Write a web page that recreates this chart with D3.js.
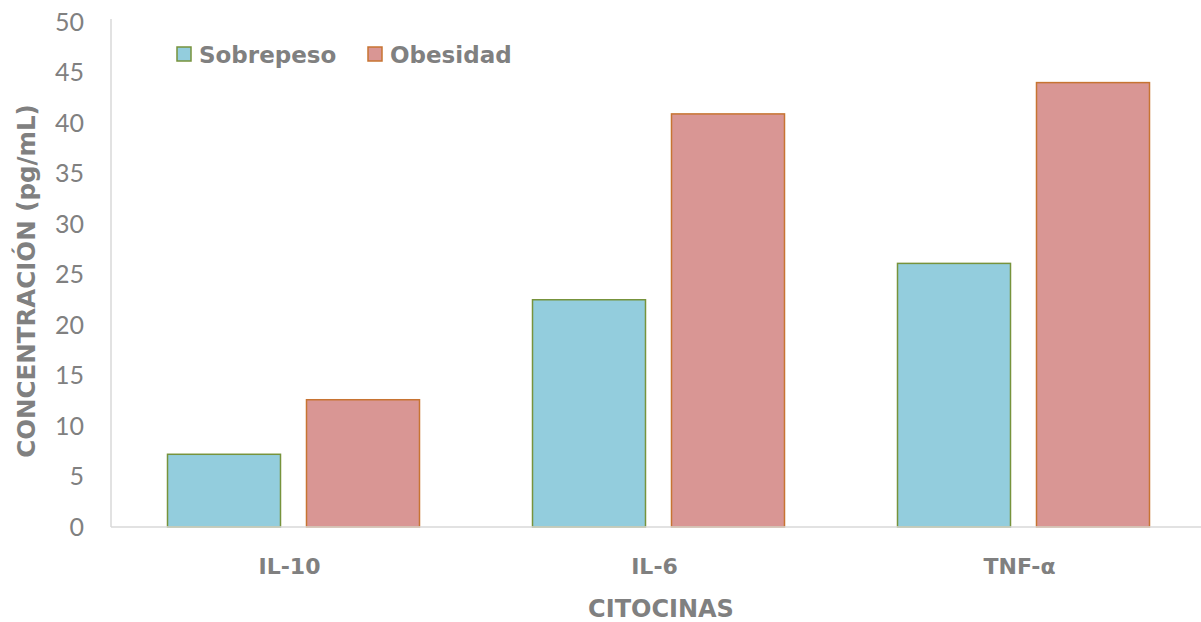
<!DOCTYPE html>
<html><head><meta charset="utf-8">
<script src="https://cdn.jsdelivr.net/npm/d3@7"></script>
<style>
html,body{margin:0;padding:0;background:#fff;}
svg text{fill:#808080;}
</style></head>
<body>
<svg id="c" width="1201" height="622"></svg>
<script>
const categories = ["IL-10", "IL-6", "TNF-α"];
const seriesNames = ["Sobrepeso", "Obesidad"];
const sobrepeso = [7.2, 22.5, 26.1];
const obesidad = [12.6, 40.9, 44.0];
const yTicks = [0, 5, 10, 15, 20, 25, 30, 35, 40, 45, 50];
const fills = ["#93CDDD", "#D99694"];
const strokes = ["#77933C", "#C77432"];

(function(){
const BOLD = "'DejaVu Sans', sans-serif";
const svg = d3.select("#c");
const pLeft = 111, pRight = 1206, pTop = 22, pBottom = 527;
const x0 = d3.scaleBand().domain(categories).range([pLeft, pRight]).paddingInner(0).paddingOuter(0);
const x1 = d3.scaleBand().domain(seriesNames).range([56.5, x0.bandwidth() - 56.5]).paddingInner(0.187).paddingOuter(0);
const y = d3.scaleLinear().domain([0, 50]).range([pBottom, pTop]);

// y tick labels
const yAxis = d3.axisLeft(y).tickValues(yTicks).tickSize(0).tickPadding(0);
const gy = svg.append("g").attr("transform", `translate(84,0)`).call(yAxis);
gy.select(".domain").remove();
gy.selectAll("text").attr("font-size", 25).attr("fill", "#808080").style("font-family", "Lato, sans-serif");

// bars
const data = categories.map((c, i) => ({c, vals: [sobrepeso[i], obesidad[i]]}));
const g = svg.append("g");
data.forEach(d => {
  d.vals.forEach((v, j) => {
    g.append("rect")
      .attr("x", x0(d.c) + x1(seriesNames[j]))
      .attr("y", y(v))
      .attr("width", x1.bandwidth())
      .attr("height", y(0) - y(v))
      .attr("fill", fills[j])
      .attr("stroke", strokes[j])
      .attr("stroke-width", 1.5);
  });
});

// axis lines
svg.append("line").attr("x1", pLeft).attr("x2", pLeft).attr("y1", 19).attr("y2", pBottom).attr("stroke", "#D9D9D9").attr("stroke-width", 1.5);
svg.append("line").attr("x1", pLeft).attr("x2", 1201).attr("y1", pBottom).attr("y2", pBottom).attr("stroke", "#D9D9D9").attr("stroke-width", 1.5);

// x axis labels
const xAxis = d3.axisBottom(x0).tickSize(0).tickPadding(0);
const gx = svg.append("g").attr("transform", `translate(-4,566)`).call(xAxis);
gx.select(".domain").remove();
gx.selectAll("text").attr("dy", "0.35em").attr("font-size", 22).attr("font-weight", "bold").attr("fill", "#808080").style("font-family", BOLD);

// axis titles
svg.append("text").attr("x", 661).attr("y", 609).attr("dy", "0.35em").style("font-family", BOLD)
  .attr("text-anchor", "middle").attr("font-size", 24).attr("font-weight", "bold").text("CITOCINAS");
svg.append("text").attr("transform", "translate(26,281) rotate(-90)").attr("dy", "0.35em").style("font-family", BOLD)
  .attr("text-anchor", "middle").attr("font-size", 24.5).attr("font-weight", "bold").text("CONCENTRACIÓN (pg/mL)");

// legend
const legX = [177, 368];
seriesNames.forEach((s, j) => {
  svg.append("rect").attr("x", legX[j]).attr("y", 47).attr("width", 14).attr("height", 14)
    .attr("fill", fills[j]).attr("stroke", strokes[j]).attr("stroke-width", 1.5);
  svg.append("text").attr("x", legX[j] + 22).attr("y", 55).attr("dy", "0.35em").style("font-family", BOLD)
    .attr("font-size", 23).attr("font-weight", "bold").text(s);
});
})();
</script>
</body></html>
